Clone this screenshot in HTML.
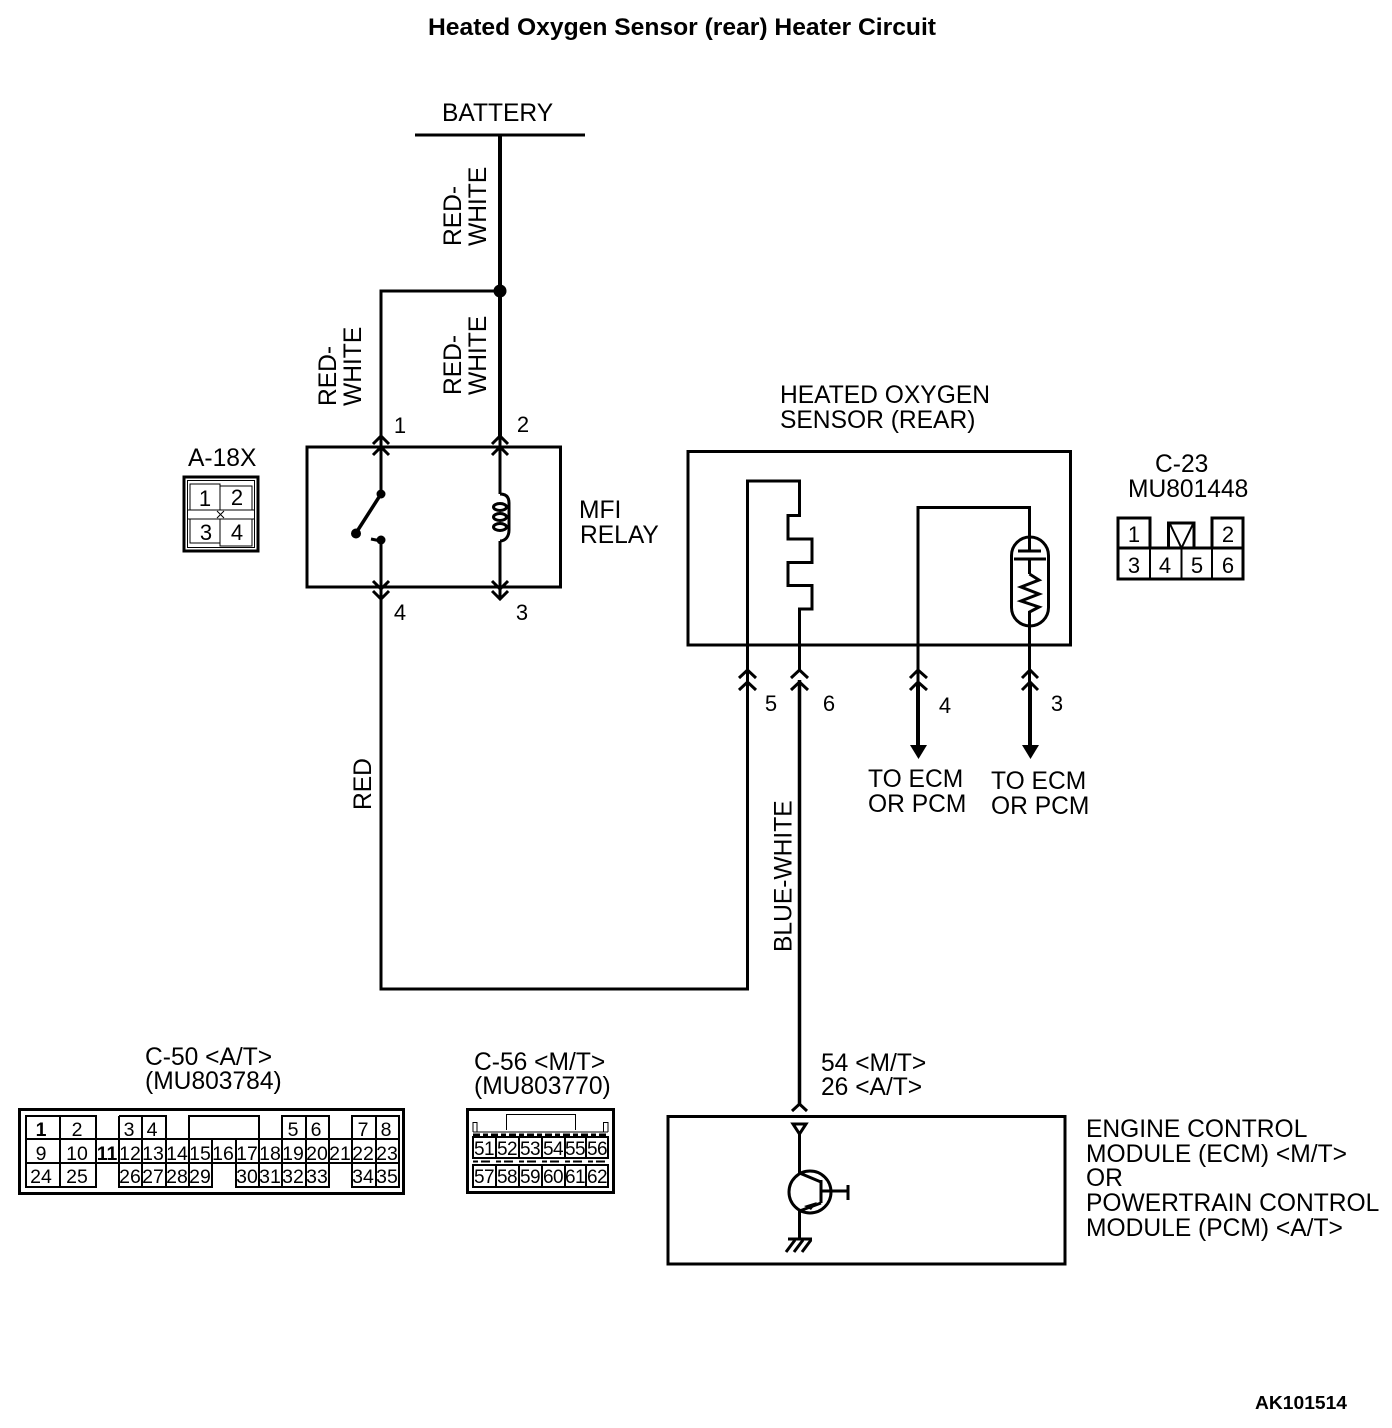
<!DOCTYPE html>
<html>
<head>
<meta charset="utf-8">
<title>Heated Oxygen Sensor (rear) Heater Circuit</title>
<style>
html,body{margin:0;padding:0;background:#fff;}
svg{display:block;}
text{font-family:"Liberation Sans",Arial,sans-serif;fill:#000;stroke:none;}
.t{font-size:24.6px;}
.n{font-size:22px;text-anchor:middle;}
.s{font-size:19.5px;text-anchor:middle;}
.s2{font-size:19px;text-anchor:middle;letter-spacing:-0.6px;}
.w{fill:none;stroke:#000;stroke-width:3;}
.c{fill:none;stroke:#000;stroke-width:2;}
.f{fill:none;stroke:#000;stroke-width:1;}
</style>
</head>
<body>
<svg width="1392" height="1428" viewBox="0 0 1392 1428" xmlns="http://www.w3.org/2000/svg">
<rect width="1392" height="1428" fill="#fff"/>

<text x="428" y="35" font-size="24" font-weight="bold" textLength="508" lengthAdjust="spacingAndGlyphs">Heated Oxygen Sensor (rear) Heater Circuit</text>

<!-- battery -->
<text class="t" x="442" y="121">BATTERY</text>
<path class="w" d="M415 135H585"/>
<path class="w" style="stroke-width:4" d="M500 135V437"/>
<circle cx="500" cy="291" r="6.5" fill="#000"/>
<path class="w" d="M500 291H381V437"/>

<text class="t" transform="translate(461,246) rotate(-90)">RED-</text>
<text class="t" transform="translate(486,246) rotate(-90)">WHITE</text>
<text class="t" transform="translate(461,395) rotate(-90)">RED-</text>
<text class="t" transform="translate(486,395) rotate(-90)">WHITE</text>
<text class="t" transform="translate(336,406) rotate(-90)">RED-</text>
<text class="t" transform="translate(361,406) rotate(-90)">WHITE</text>

<!-- MFI relay -->
<rect class="w" x="307" y="447" width="253.500" height="140"/>
<path class="w" d="M381 437V494"/>
<path class="w" d="M500 437V494"/>
<path class="w" d="M373 444L381 436L389 444M373 455L381 447L389 455"/>
<path class="w" d="M492 444L500 436L508 444M492 455L500 447L508 455"/>
<circle cx="381" cy="494" r="4.500" fill="#000"/>
<circle cx="381" cy="540" r="4.500" fill="#000"/>
<circle cx="356" cy="533.500" r="5" fill="#000"/>
<path class="w" style="stroke-width:3.500" d="M381 494L356 533"/>
<path class="w" d="M371 539L381 541"/>
<path class="w" d="M381 540V630"/>
<path class="w" d="M373 581L381 589L389 581M373 591L381 599L389 591"/>
<path class="w" d="M500 541V598"/>
<path class="w" d="M492 581L500 589L508 581M492 591L500 599L508 591"/>
<path class="w" d="M500 494C507 494 509 498 509 503V530C509 537 505 541 500 541"/>
<ellipse class="w" cx="500" cy="507" rx="6.500" ry="3.500"/>
<ellipse class="w" cx="500" cy="517" rx="6.500" ry="3.500"/>
<ellipse class="w" cx="500" cy="527" rx="6.500" ry="3.500"/>

<text class="n" x="400" y="433">1</text>
<text class="n" x="523" y="432">2</text>
<text class="n" x="400" y="620">4</text>
<text class="n" x="522" y="620">3</text>

<text class="t" x="579" y="518">MFI</text>
<text class="t" x="580" y="543">RELAY</text>

<!-- A-18X -->
<text class="t" x="188" y="466">A-18X</text>
<rect x="184" y="477" width="74" height="74" fill="none" stroke="#000" stroke-width="3"/>
<rect x="187.500" y="480.500" width="67" height="67" class="f"/>
<path class="f" d="M190 510V484H220V510M220 486H252V510M190 519V543H220M220 519V546H252V519M187 510H254M187 519H254"/>
<path class="f" d="M217 511L224 518M224 511L217 518"/>
<text class="n" x="205" y="506">1</text>
<text class="n" x="237" y="505">2</text>
<text class="n" x="206" y="540">3</text>
<text class="n" x="237" y="540">4</text>

<!-- Sensor -->
<text class="t" x="780" y="403">HEATED OXYGEN</text>
<text class="t" x="780" y="428">SENSOR (REAR)</text>
<rect class="w" x="688" y="451.500" width="382.500" height="193.500"/>
<path class="w" d="M747.500 690V481H799.500V515.500H788V539H812V562.500H788V585.500H812V609H799.500V670"/>
<path class="w" d="M918 690V507.500H1029.500V551"/>
<rect class="w" x="1011.500" y="537" width="37" height="89" rx="18.500" ry="18.500"/>
<path class="w" d="M1018 551H1041M1014 559H1046M1029.500 559V574"/>
<path class="w" d="M1029.500 574L1039 580L1021 587L1039 594L1021 601L1039 607L1029.500 612V690"/>

<path class="w" d="M739 678L747.500 670L756 678M739 690L747.500 682L756 690"/>
<path class="w" d="M791 678L799.500 670L808 678M791 690L799.500 682L808 690"/>
<path class="w" d="M910 678L918 670L927 678M910 690L918 682L927 690"/>
<path class="w" d="M1022 678L1030 670L1038 678M1022 690L1030 682L1038 690"/>

<path class="w" d="M747.500 680V989H381V630"/>
<path class="w" style="stroke-width:3.500" d="M799.500 680V1106"/>
<path class="w" style="stroke-width:4" d="M918 682V746M1030 682V746"/>
<path d="M910 745H927L918.500 759Z" fill="#000"/>
<path d="M1022 745H1039L1030.500 759Z" fill="#000"/>

<text class="n" x="771" y="711">5</text>
<text class="n" x="829" y="711">6</text>
<text class="n" x="945" y="713">4</text>
<text class="n" x="1057" y="711">3</text>

<text class="t" x="868" y="787">TO ECM</text>
<text class="t" x="868" y="812">OR PCM</text>
<text class="t" x="991" y="789">TO ECM</text>
<text class="t" x="991" y="814">OR PCM</text>

<text class="t" transform="translate(371,810) rotate(-90)">RED</text>
<text class="t" transform="translate(791.500,952) rotate(-90)">BLUE-WHITE</text>

<!-- C-23 -->
<text class="t" x="1155" y="472">C-23</text>
<text class="t" x="1128" y="497">MU801448</text>
<path class="w" d="M1118 548V518H1150V548M1212 548V518H1243V548M1168.500 548V523H1194V548"/>
<path class="w" d="M1118 548H1243V579H1118Z"/>
<path class="c" d="M1150 548V579M1181.500 548V579M1212 548V579"/>
<path class="c" d="M1170 524L1181.500 548L1193 524"/>
<text class="n" x="1134" y="542">1</text>
<text class="n" x="1228" y="542">2</text>
<text class="n" x="1134" y="573">3</text>
<text class="n" x="1165" y="573">4</text>
<text class="n" x="1197" y="573">5</text>
<text class="n" x="1228" y="573">6</text>

<!-- C-50 -->
<text class="t" x="145" y="1065">C-50 &lt;A/T&gt;</text>
<text class="t" x="145" y="1089">(MU803784)</text>
<rect x="19.500" y="1109.500" width="384" height="84" fill="none" stroke="#000" stroke-width="3"/>
<g>
<path class="c" d="M26 1116H96V1187H26ZM26 1139H96M26 1163H96M60 1116V1187"/>
<path class="c" d="M119 1116H166V1139M119 1116V1139M142 1116V1139"/>
<path class="c" d="M189 1139V1116H259V1139"/>
<path class="c" d="M282 1139V1116H329V1139M306 1116V1139"/>
<path class="c" d="M352 1139V1116H399V1139M376 1116V1139"/>
<path class="c" d="M96 1139H399V1163H96M399 1139V1187H352V1163M376 1163V1187"/>
<path class="c" d="M119 1139V1187H212V1163M142 1139V1187M166 1139V1187M189 1139V1187"/>
<path class="c" d="M212 1139V1163M236 1139V1187H329V1163M259 1139V1187M282 1139V1187M306 1139V1187M329 1139V1163M352 1139V1163M376 1139V1163"/>
</g>
<g class="s">
<text x="41" y="1136" font-weight="bold">1</text><text x="77" y="1136">2</text><text x="129" y="1136">3</text><text x="152" y="1136">4</text><text x="293" y="1136">5</text><text x="316" y="1136">6</text><text x="363" y="1136">7</text><text x="386" y="1136">8</text>
<text x="41" y="1160">9</text><text x="77" y="1160">10</text><text x="107" y="1160" font-weight="bold">11</text><text x="130" y="1160">12</text><text x="153" y="1160">13</text><text x="177" y="1160">14</text><text x="200" y="1160">15</text><text x="223" y="1160">16</text><text x="247" y="1160">17</text><text x="270" y="1160">18</text><text x="293" y="1160">19</text><text x="317" y="1160">20</text><text x="340" y="1160">21</text><text x="363" y="1160">22</text><text x="387" y="1160">23</text>
<text x="41" y="1183">24</text><text x="77" y="1183">25</text><text x="130" y="1183">26</text><text x="153" y="1183">27</text><text x="177" y="1183">28</text><text x="200" y="1183">29</text><text x="247" y="1183">30</text><text x="270" y="1183">31</text><text x="293" y="1183">32</text><text x="317" y="1183">33</text><text x="363" y="1183">34</text><text x="387" y="1183">35</text>
</g>

<!-- C-56 -->
<text class="t" x="474" y="1070">C-56 &lt;M/T&gt;</text>
<text class="t" x="474" y="1094">(MU803770)</text>
<rect x="467.500" y="1109.500" width="146" height="83" fill="none" stroke="#000" stroke-width="3"/>
<path class="f" d="M506.500 1130V1114.500H575.500V1130M473 1132V1122.500H477V1132M603.500 1132V1122.500H608V1132"/>
<path d="M473 1132H608" stroke="#000" stroke-width="1" fill="none"/>
<path d="M473 1135H608" stroke="#000" stroke-width="3" stroke-dasharray="7 3 5 3" fill="none"/>
<path d="M473 1161.500H608" stroke="#000" stroke-width="2" stroke-dasharray="5 3 9 6" fill="none"/>
<path class="c" d="M473 1137H608V1158H473ZM473 1165H608V1187H473Z"/>
<path class="c" d="M496 1137V1158M519 1137V1158M542 1137V1158M565 1137V1158M586 1137V1158M496 1165V1187M519 1165V1187M542 1165V1187M565 1165V1187M586 1165V1187"/>
<g class="s2">
<text x="484" y="1155">51</text><text x="507" y="1155">52</text><text x="530" y="1155">53</text><text x="553" y="1155">54</text><text x="575" y="1155">55</text><text x="597" y="1155">56</text>
<text x="484" y="1183">57</text><text x="507" y="1183">58</text><text x="530" y="1183">59</text><text x="553" y="1183">60</text><text x="575" y="1183">61</text><text x="597" y="1183">62</text>
</g>

<!-- ECM -->
<text class="t" x="821" y="1071">54 &lt;M/T&gt;</text>
<text class="t" x="821" y="1095">26 &lt;A/T&gt;</text>
<path class="w" d="M792 1111L799.500 1104L807 1111"/>
<rect class="w" x="668" y="1116.500" width="397" height="147.500"/>
<path class="w" d="M793 1124H806L799.500 1134Z"/>
<path class="w" d="M799.500 1134V1173"/>
<circle class="w" cx="810" cy="1192" r="21"/>
<path class="w" d="M799.500 1173L821 1182"/>
<path class="w" d="M821 1180V1203"/>
<path class="w" d="M821 1203L799.500 1211V1240"/>
<path d="M804 1206L817 1202L811 1210Z" fill="#000"/>
<path class="w" d="M821 1191H848M848 1185V1200"/>
<path class="w" d="M788 1239H812M795 1240L786 1252M803 1240L794 1252M811 1240L802 1252"/>

<text class="t" x="1086" y="1137">ENGINE CONTROL</text>
<text class="t" x="1086" y="1162">MODULE (ECM) &lt;M/T&gt;</text>
<text class="t" x="1086" y="1186">OR</text>
<text class="t" x="1086" y="1211">POWERTRAIN CONTROL</text>
<text class="t" x="1086" y="1236">MODULE (PCM) &lt;A/T&gt;</text>

<text x="1255" y="1409" font-size="18" font-weight="bold" textLength="92" lengthAdjust="spacingAndGlyphs">AK101514</text>
</svg>
</body>
</html>
